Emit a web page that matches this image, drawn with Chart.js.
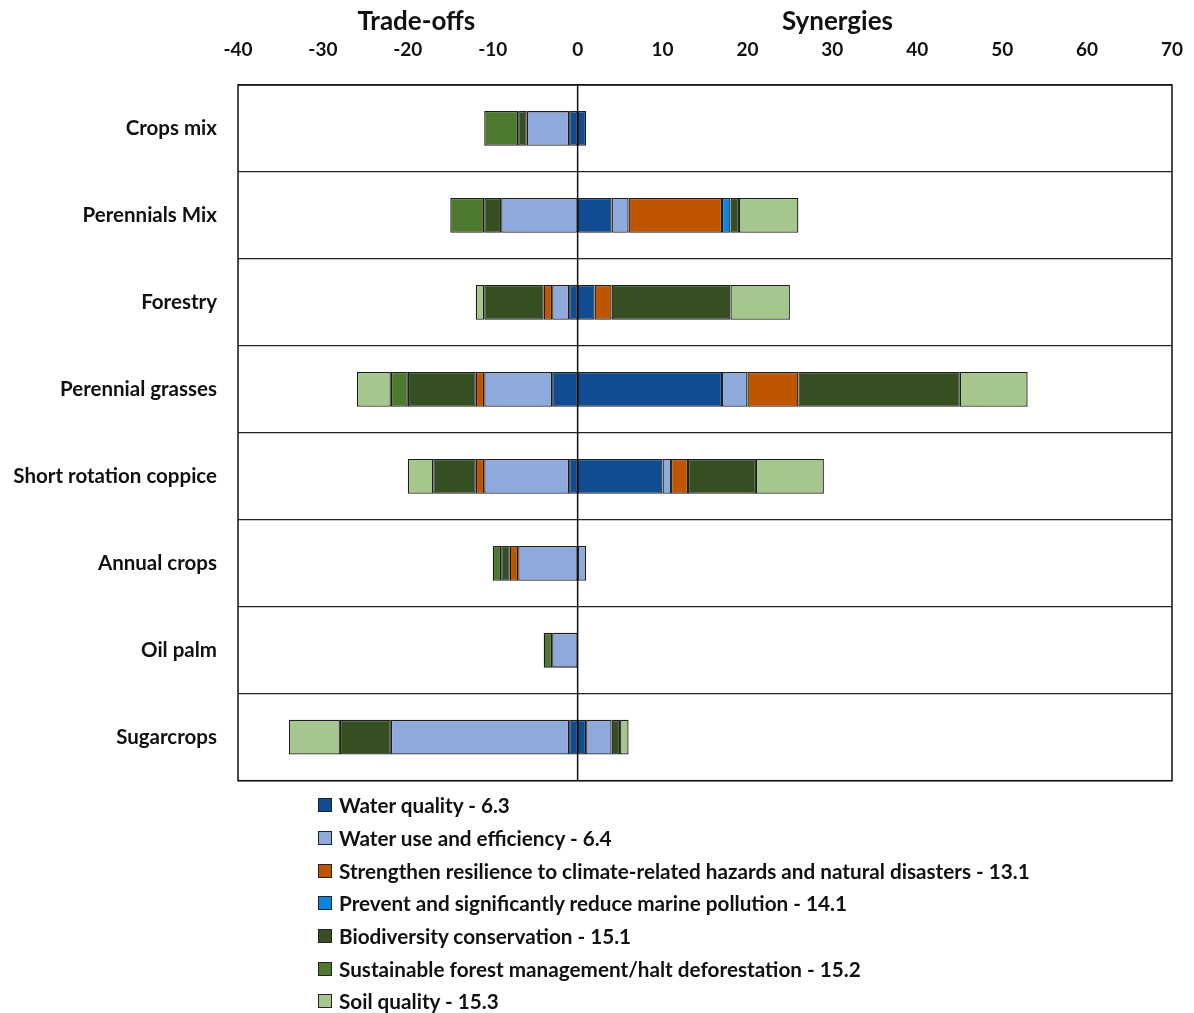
<!DOCTYPE html>
<html>
<head>
<meta charset="utf-8">
<script src="https://cdn.jsdelivr.net/npm/chart.js@4.4.1/dist/chart.umd.min.js"></script>
<style>
  body { margin: 0; background: #fff; font-family: Lato, "Liberation Sans", sans-serif; }
  #wrap { position: relative; width: 1194px; height: 790px; }
  #legend { position: absolute; left: 318px; top: 789px; }
  .item { height: 32.7px; display: flex; align-items: center; font-weight: bold; font-size: 20.7px; color: #111; }
  .box { width: 12px; height: 12px; border: 1px solid #222; margin-right: 7px; }
</style>
</head>
<body>
<div id="wrap"><canvas id="chart" width="1194" height="814"></canvas></div>
<div id="legend"></div>
<script>
// Categories (top to bottom)
const categories = ["Crops mix", "Perennials Mix", "Forestry", "Perennial grasses",
  "Short rotation coppice", "Annual crops", "Oil palm", "Sugarcrops"];

const indicators = ["Water quality - 6.3", "Water use and efficiency - 6.4",
  "Strengthen resilience to climate-related hazards and natural disasters - 13.1",
  "Prevent and significantly reduce marine pollution - 14.1",
  "Biodiversity conservation - 15.1",
  "Sustainable forest management/halt deforestation - 15.2",
  "Soil quality - 15.3"];
const colors = ["#0F4C92", "#8EA9DB", "#C05500", "#0A85E0", "#364F22", "#4E7A2F", "#A5C78D"];

// Trade-offs (negative side) per indicator
const tradeWaterQuality = [-1, 0, -1, -3, -1, 0, 0, -1];
const tradeWaterUse     = [-5, -9, -2, -8, -10, -7, -3, -21];
const tradeResilience   = [0, 0, -1, -1, -1, -1, 0, 0];
const tradeMarine       = [0, 0, 0, 0, 0, 0, 0, 0];
const tradeBiodiversity = [-1, -2, -7, -8, -5, -1, 0, -6];
const tradeForest       = [-4, -4, 0, -2, 0, -1, -1, 0];
const tradeSoil         = [0, 0, -1, -4, -3, 0, 0, -6];

// Synergies (positive side) per indicator
const synWaterQuality = [1, 4, 2, 17, 10, 0, 0, 1];
const synWaterUse     = [0, 2, 0, 3, 1, 1, 0, 3];
const synResilience   = [0, 11, 2, 6, 2, 0, 0, 0];
const synMarine       = [0, 1, 0, 0, 0, 0, 0, 0];
const synBiodiversity = [0, 1, 14, 19, 8, 0, 0, 1];
const synForest       = [0, 0, 0, 0, 0, 0, 0, 0];
const synSoil         = [0, 7, 7, 8, 8, 0, 0, 1];

const xTicks = [-40, -30, -20, -10, 0, 10, 20, 30, 40, 50, 60, 70];

const trades = [tradeWaterQuality, tradeWaterUse, tradeResilience, tradeMarine, tradeBiodiversity, tradeForest, tradeSoil];
const syns = [synWaterQuality, synWaterUse, synResilience, synMarine, synBiodiversity, synForest, synSoil];

const datasets = [];
indicators.forEach((name, i) => {
  [trades[i], syns[i]].forEach(arr => {
    datasets.push({
      label: name,
      data: arr.map(v => v === 0 ? null : v),
      backgroundColor: colors[i],
      borderColor: '#1c1c1c',
      borderWidth: 1.3,
      borderSkipped: false,
      barPercentage: 0.8,
      categoryPercentage: 0.5
    });
  });
});

const font = "Lato, 'Liberation Sans', sans-serif";

const extras = {
  id: 'extras',
  afterDatasetsDraw(chart) {
    const {ctx, chartArea: a, scales: {x}} = chart;
    ctx.save();
    ctx.strokeStyle = '#111';
    ctx.lineWidth = 1.5;
    const zx = x.getPixelForValue(0);
    ctx.beginPath(); ctx.moveTo(zx, a.top); ctx.lineTo(zx, a.bottom); ctx.stroke();
    ctx.strokeRect(a.left, a.top, a.right - a.left, a.bottom - a.top);
    ctx.fillStyle = '#111';
    ctx.font = "bold 26px " + font;
    ctx.textAlign = 'center';
    ctx.textBaseline = 'middle';
    ctx.fillText('Trade-offs', x.getPixelForValue(-19), 22);
    ctx.fillText('Synergies', x.getPixelForValue(30.6), 22);
    ctx.restore();
  }
};

const chart = new Chart(document.getElementById('chart'), {
  type: 'bar',
  data: { labels: categories, datasets: datasets },
  options: {
    indexAxis: 'y',
    responsive: false,
    animation: false,
    layout: { padding: { top: 0, right: 22, bottom: 10, left: 0 } },
    plugins: { legend: { display: false }, tooltip: { enabled: false } },
    scales: {
      x: {
        type: 'linear',
        position: 'top',
        stacked: true,
        min: -40, max: 70,
        afterBuildTicks: s => { s.ticks = xTicks.map(v => ({ value: v })); },
        afterFit: s => { s.height = 85; s.paddingRight = 0; s.paddingLeft = 0; },
        grid: { display: false },
        border: { display: false },
        ticks: { color: '#111', font: { family: font, size: 19, weight: 'bold' }, padding: 16 }
      },
      y: {
        stacked: true,
        afterFit: s => { s.width = 238; },
        grid: { offset: true, color: '#222', lineWidth: 1.3, drawTicks: false },
        border: { display: false },
        ticks: { color: '#111', font: { family: font, size: 20.5, weight: 'bold' }, padding: 21 }
      }
    }
  },
  plugins: [extras]
});

// legend
const leg = document.getElementById('legend');
indicators.forEach((name, i) => {
  const d = document.createElement('div');
  d.className = 'item';
  d.innerHTML = '<span class="box" style="background:' + colors[i] + '"></span>' + name;
  leg.appendChild(d);
});
</script>
</body>
</html>
